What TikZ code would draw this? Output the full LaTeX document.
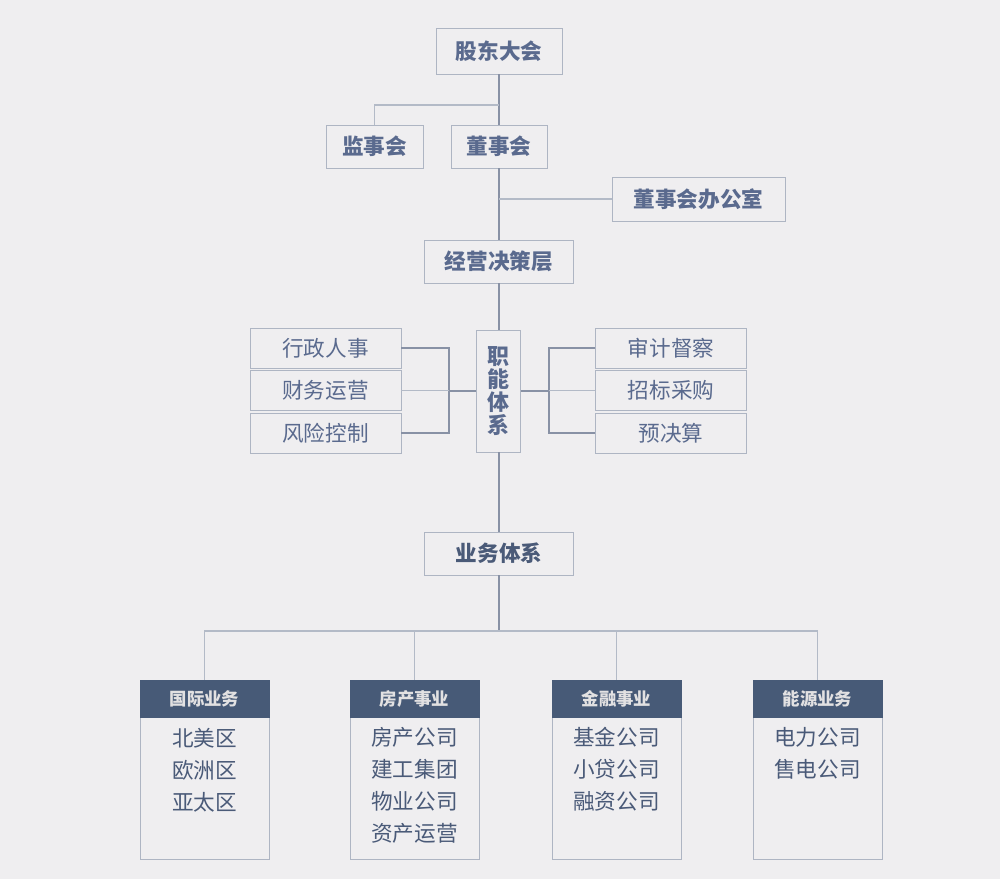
\documentclass[tikz,border=0pt]{standalone}
\usepackage{fontspec}
\setmainfont{Noto Sans CJK SC}
\definecolor{bgc}{HTML}{EFEEF0}
\definecolor{edge}{HTML}{AEB5C3}
\definecolor{trunk}{HTML}{8891A5}
\definecolor{twig}{HTML}{B3BAC7}
\definecolor{ink}{HTML}{5A6A8E}
\definecolor{deep}{HTML}{4A5A78}
\definecolor{head}{HTML}{475A77}

\begin{document}
\begin{tikzpicture}[x=0.02cm, y=-0.02cm]
\tikzset{
    box/.style={draw=edge, fill=bgc, inner sep=0pt, text=ink, font=\fontsize{12.3}{14}\selectfont\bfseries},
    side/.style={draw=edge, fill=bgc, inner sep=0pt, text=ink, minimum width=3.02cm, minimum height=0.8cm, font=\fontsize{12.3}{14}\selectfont},
    headbox/.style={fill=head, draw=head, inner sep=0pt, text=bgc!88!gray, minimum width=2.58cm, minimum height=0.74cm, font=\fontsize{9.9}{12}\selectfont\bfseries},
    bodybox/.style={draw=edge, fill=bgc, anchor=north, minimum width=2.58cm, minimum height=2.84cm},
    item/.style={text=deep, inner sep=0pt, font=\fontsize{12.3}{14}\selectfont},
    link/.style={draw=trunk, line width=0.6pt},
    twiglink/.style={draw=twig, line width=0.6pt}
}
    \fill[bgc] (0,0) rectangle (1000,879);
    \useasboundingbox (0,0) rectangle (1000,879);

    \node[box, minimum width=2.52cm, minimum height=0.92cm](Gudong) at (499,51) {股东大会};
    \node[box, minimum width=1.94cm, minimum height=0.86cm](Jianshi) at (374.5,146.5) {监事会};
    \node[box, minimum width=1.92cm, minimum height=0.86cm](Dongshi) at (499,146.5) {董事会};
    \node[box, minimum width=3.46cm, minimum height=0.88cm](Bangong) at (698.5,199) {董事会办公室};
    \node[box, minimum width=2.98cm, minimum height=0.86cm](Juececeng) at (499,261.5) {经营决策层};
    \node[box, minimum width=0.88cm, minimum height=2.44cm, align=center,
          font=\fontsize{12.5}{13}\selectfont\bfseries](Zhineng) at (498.5,391) {职\\能\\体\\系};
    \node[box, minimum width=2.98cm, minimum height=0.86cm, text=deep](Yewu) at (499,553.5) {业务体系};

    % functional departments
    \node[side](Xingzheng) at (325.5,348) {行政人事};
    \node[side](Caiwu) at (325.5,390.5) {财务运营};
    \node[side](Fengxian) at (325.5,433) {风险控制};
    \node[side](Shenji) at (671,348) {审计督察};
    \node[side](Zhaobiao) at (671,390.5) {招标采购};
    \node[side](Yujuesuan) at (671,433) {预决算};

    \coordinate (SplitA) at (499,105);
    \coordinate (SplitB) at (499,199);
    \coordinate (SplitC) at (499,631);

    \draw[link] (Gudong.south) -- (Dongshi.north);
    \draw[twiglink] (SplitA) -| (Jianshi.north);
    \draw[link] (Dongshi.south) -- (Juececeng.north);
    \draw[twiglink] (SplitB) -- (Bangong.west);
    \draw[link] (Juececeng.south) -- (Juececeng.south |- Zhineng.north);
    \draw[link] (Zhineng.south -| Yewu.north) -- (Yewu.north);
    \draw[link] (Yewu.south) -- (SplitC);

    \draw[link] (Xingzheng.east) -| (449,433) -- (Fengxian.east);
    \draw[twiglink] (Caiwu.east) -- (449,390.5);
    \draw[link] (449,391) -- (Zhineng.west);
    \draw[link] (Shenji.west) -| (549,433) -- (Yujuesuan.west);
    \draw[twiglink] (Zhaobiao.west) -- (549,390.5);
    \draw[link] (549,391) -- (Zhineng.east);

    % business units
    \node[headbox](Guoji) at (204.5,698.5) {国际业务};
    \node[headbox](Fangchan) at (414.5,698.5) {房产事业};
    \node[headbox](Jinrong) at (616.5,698.5) {金融事业};
    \node[headbox](Nengyuan) at (817.5,698.5) {能源业务};
    \foreach \u in {Guoji, Fangchan, Jinrong, Nengyuan}
        \node[bodybox] at (\u.south) {};
    \node[headbox] at (Guoji) {国际业务};
    \node[headbox] at (Fangchan) {房产事业};
    \node[headbox] at (Jinrong) {金融事业};
    \node[headbox] at (Nengyuan) {能源业务};

    \draw[twiglink] (Guoji.north) |- (SplitC) -| (Nengyuan.north);
    \draw[twiglink] (SplitC) -| (Fangchan.north);
    \draw[twiglink] (SplitC) -| (Jinrong.north);

    \node[item](Beimei) at (204.5,738) {北美区};
    \node[item](Ouzhou) at (204.5,770) {欧洲区};
    \node[item](Yatai) at (204.5,802) {亚太区};
    \node[item](FcGongsi) at (414.5,737) {房产公司};
    \node[item](Jiangong) at (414.5,769) {建工集团};
    \node[item](Wuye) at (414.5,801) {物业公司};
    \node[item](Zichan) at (414.5,833) {资产运营};
    \node[item](Jijin) at (616.5,737) {基金公司};
    \node[item](Xiaodai) at (616.5,769) {小贷公司};
    \node[item](Rongzi) at (616.5,801) {融资公司};
    \node[item](Dianli) at (817.5,737) {电力公司};
    \node[item](Shoudian) at (817.5,769) {售电公司};
\end{tikzpicture}
\end{document}
